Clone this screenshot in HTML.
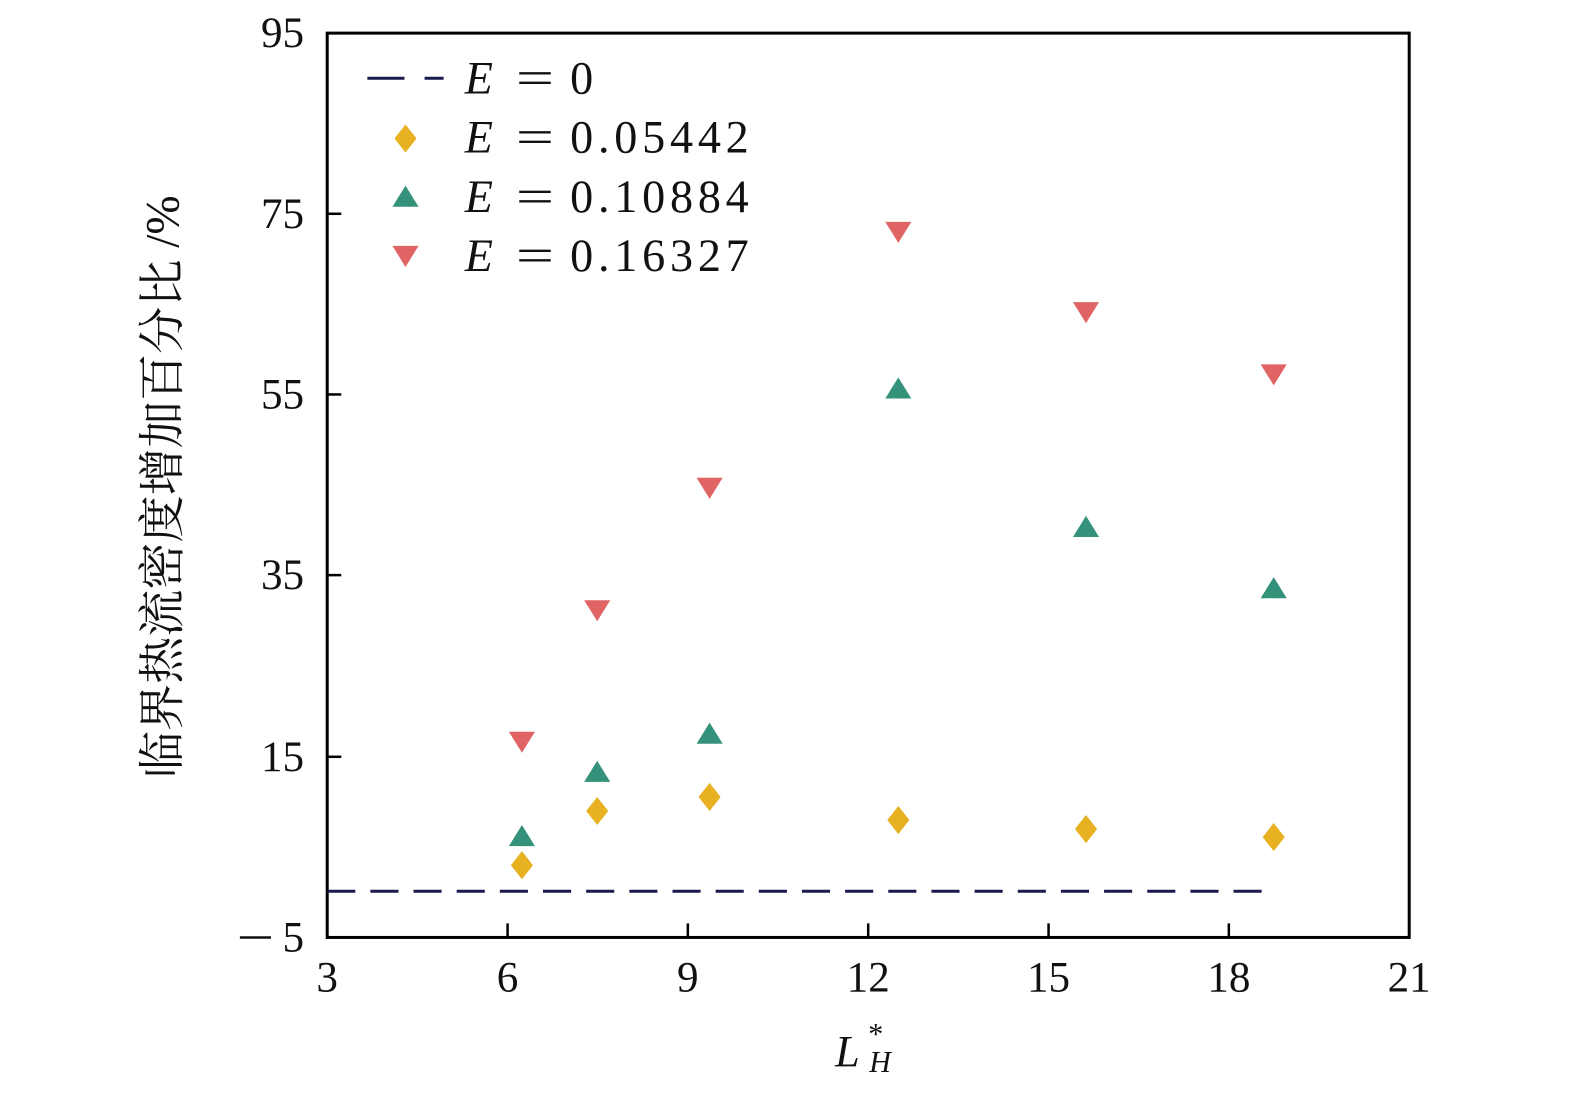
<!DOCTYPE html>
<html><head><meta charset="utf-8"><style>
html,body{margin:0;padding:0;background:#fff;overflow:hidden;width:1575px;height:1093px;}
svg{display:block;}
svg text{font-family:"Liberation Serif","Noto Serif CJK SC",serif;fill:#111;}
</style></head><body>
<svg width="1575" height="1093" viewBox="0 0 1575 1093" xmlns="http://www.w3.org/2000/svg">
<defs>
<polygon id="dia" points="0,-14 11,0 0,14 -11,0" fill="#e8b122"/>
<polygon id="up" points="0,-11 13,10 -13,10" fill="#34927a"/>
<polygon id="dn" points="0,11 13,-10 -13,-10" fill="#e06464"/>
</defs>
<g transform="scale(1.0037)">
<rect x="326" y="33" width="1078" height="901" fill="none" stroke="#000" stroke-width="3"/>
<g stroke="#000" stroke-width="2.5">
<line x1="505.7" y1="934" x2="505.7" y2="920"/><line x1="685.3" y1="934" x2="685.3" y2="920"/>
<line x1="865" y1="934" x2="865" y2="920"/><line x1="1044.7" y1="934" x2="1044.7" y2="920"/>
<line x1="1224.3" y1="934" x2="1224.3" y2="920"/>
<line x1="326" y1="213" x2="340" y2="213"/><line x1="326" y1="393" x2="340" y2="393"/>
<line x1="326" y1="573" x2="340" y2="573"/><line x1="326" y1="754" x2="340" y2="754"/>
</g>
<g font-size="43" text-anchor="middle">
<text x="326" y="988">3</text><text x="505.7" y="988">6</text><text x="685.3" y="988">9</text>
<text x="865" y="988">12</text><text x="1044.7" y="988">15</text><text x="1224.3" y="988">18</text><text x="1404" y="988">21</text>
</g>
<g font-size="43" text-anchor="end">
<text x="303" y="47">95</text><text x="303" y="227">75</text><text x="303" y="407">55</text>
<text x="303" y="587">35</text><text x="303" y="768">15</text><text x="303" y="948">5</text>
</g>
<line x1="239" y1="934" x2="270" y2="934" stroke="#111" stroke-width="2.5"/>
<text x="832" y="1062" font-size="44" font-style="italic">L</text>
<text x="865" y="1040" font-size="30">*</text>
<text x="866" y="1068" font-size="30" font-style="italic">H</text>
<text transform="translate(178,485) rotate(-90)" font-size="47" text-anchor="middle">临界热流密度增加百分比 /%</text>
<line x1="326" y1="888" x2="1269" y2="888" stroke="#1a1a4e" stroke-width="3" stroke-dasharray="28,15"/>
<line x1="366" y1="78" x2="442" y2="78" stroke="#1a1a4e" stroke-width="3" stroke-dasharray="37,20"/>
<use href="#dia" x="404" y="138"/><use href="#up" x="404" y="196"/><use href="#dn" x="404" y="255"/>
<g font-size="46">
<text x="463" y="93" font-style="italic">E</text><text x="514" y="93" textLength="38" lengthAdjust="spacingAndGlyphs">=</text><text x="568" y="93">0</text>
<text x="463" y="152" font-style="italic">E</text><text x="514" y="152" textLength="38" lengthAdjust="spacingAndGlyphs">=</text><text x="568" y="152" textLength="178">0.05442</text>
<text x="463" y="211" font-style="italic">E</text><text x="514" y="211" textLength="38" lengthAdjust="spacingAndGlyphs">=</text><text x="568" y="211" textLength="178">0.10884</text>
<text x="463" y="270" font-style="italic">E</text><text x="514" y="270" textLength="38" lengthAdjust="spacingAndGlyphs">=</text><text x="568" y="270" textLength="178">0.16327</text>
</g>
<use href="#dia" x="520" y="862"/><use href="#dia" x="595" y="808"/><use href="#dia" x="707" y="794"/>
<use href="#dia" x="895" y="817"/><use href="#dia" x="1082" y="826"/><use href="#dia" x="1269" y="834"/>
<use href="#up" x="520" y="833"/><use href="#up" x="595" y="769"/><use href="#up" x="707" y="731"/>
<use href="#up" x="895" y="387"/><use href="#up" x="1082" y="525"/><use href="#up" x="1269" y="586"/>
<use href="#dn" x="520" y="739"/><use href="#dn" x="595" y="608"/><use href="#dn" x="707" y="486"/>
<use href="#dn" x="895" y="231"/><use href="#dn" x="1082" y="311"/><use href="#dn" x="1269" y="373"/>
</g>
</svg>
</body></html>
